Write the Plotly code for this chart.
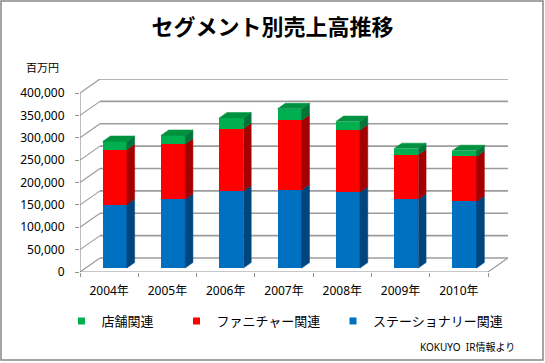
import plotly.graph_objects as go

# ---------------- data ----------------
years = ["2004年", "2005年", "2006年", "2007年", "2008年", "2009年", "2010年"]
stationery = [142000, 154000, 172000, 174500, 169500, 154000, 149000]   # ステーショナリー関連
furniture = [122500, 123000, 139500, 155500, 138500, 99000, 100500]     # ファニチャー関連
stores = [18500, 19500, 24000, 26000, 19500, 14000, 13000]              # 店舗関連
y_ticks = [0, 50000, 100000, 150000, 200000, 250000, 300000, 350000, 400000]

# ---------------- geometry / style ----------------
W, H = 545, 363
ML, MR, MT, MB = 80, 37, 79, 91
PW, PH = W - ML - MR, H - MT - MB
N = len(years)
DEPTH_PX_X, DEPTH_PX_Y = 20, 14
cat_px = (PW - DEPTH_PX_X) / N
DX = DEPTH_PX_X / cat_px
YTOP = y_ticks[-1]
ymax = YTOP * PH / (PH - DEPTH_PX_Y)
DY = ymax - YTOP
F0, F1 = 0.28, 0.67     # bar depth range (fraction of full depth)
BW = 0.415              # bar width in category units

GRID = "#9c9c9c"
FONT = "Noto Sans, Noto Sans CJK JP, DejaVu Sans, sans-serif"

series = [
    ("ステーショナリー関連", stationery, "#0070C0", "#00457E", "#005A9E"),
    ("ファニチャー関連", furniture, "#FF0000", "#A50000", "#C00000"),
    ("店舗関連", stores, "#00B050", "#00743A", "#00923F"),
]


def proj(x, v, d):
    return x + d * DX, v + d * DY


def px2paper_x(px):
    return (px - ML) / PW


def px2paper_y(py):
    return (H - MB - py) / PH


fig = go.Figure()
shapes = []

# back wall gridlines and left wall diagonals
x_left, x_right = -0.5, N - 0.5
for v in y_ticks:
    bx0, by = proj(x_left, v, 1)
    bx1, _ = proj(x_right, v, 1)
    shapes.append(dict(type="line", x0=bx0, y0=by, x1=bx1, y1=by, xref="x", yref="y",
                       line=dict(color=GRID, width=1.6), layer="below"))
    shapes.append(dict(type="line", x0=x_left, y0=v, x1=bx0, y1=by, xref="x", yref="y",
                       line=dict(color=GRID, width=1.2), layer="below"))
# floor right edge and front edge, front y axis line
fx1, fy1 = proj(x_right, 0, 1)
shapes.append(dict(type="line", x0=x_right, y0=0, x1=fx1, y1=fy1, xref="x", yref="y",
                   line=dict(color=GRID, width=1.2), layer="below"))
shapes.append(dict(type="line", x0=x_left, y0=0, x1=x_right, y1=0, xref="x", yref="y",
                   line=dict(color="#909090", width=1.2), layer="below"))
shapes.append(dict(type="line", x0=x_left, y0=0, x1=x_left, y1=YTOP, xref="x", yref="y",
                   line=dict(color="#909090", width=1.2), layer="below"))

# bars
cum = [0] * N
for si, (name, vals, c_front, c_side, c_top) in enumerate(series):
    bases = [cum[i] + F0 * DY for i in range(N)]
    fig.add_trace(go.Bar(
        x=[i + F0 * DX for i in range(N)], y=vals, base=bases, width=BW,
        marker=dict(color=c_front, line=dict(width=0)), showlegend=False,
        hoverinfo="skip"))
    for i in range(N):
        v0, v1 = cum[i], cum[i] + vals[i]
        xr = i + BW / 2
        xl = i - BW / 2
        pts = [proj(xr, v0, F0), proj(xr, v0, F1), proj(xr, v1, F1), proj(xr, v1, F0)]
        fig.add_trace(go.Scatter(
            x=[p[0] for p in pts] + [pts[0][0]], y=[p[1] for p in pts] + [pts[0][1]],
            mode="lines", fill="toself", fillcolor=c_side,
            line=dict(color=c_side, width=0.5), showlegend=False, hoverinfo="skip"))
        if si == len(series) - 1:
            pts = [proj(xl, v1, F0), proj(xr, v1, F0), proj(xr, v1, F1), proj(xl, v1, F1)]
            fig.add_trace(go.Scatter(
                x=[p[0] for p in pts] + [pts[0][0]], y=[p[1] for p in pts] + [pts[0][1]],
                mode="lines", fill="toself", fillcolor=c_top,
                line=dict(color=c_top, width=0.5), showlegend=False, hoverinfo="skip"))
    cum = [cum[i] + vals[i] for i in range(N)]

# legend entries (three separately placed legends, as in the original)
legend_specs = [("店舗関連", "#00B050", 81.5, "legend"),
                ("ファニチャー関連", "#FF0000", 196.5, "legend2"),
                ("ステーショナリー関連", "#0070C0", 353, "legend3")]
legend_layout = {}
for name, color, cx, lg in legend_specs:
    fig.add_trace(go.Scatter(x=[None], y=[None], mode="markers", name=name,
                             marker=dict(symbol="square", size=7, color=color),
                             legend=lg, showlegend=True))
    legend_layout[lg] = dict(x=px2paper_x(cx - 20), y=px2paper_y(321), xanchor="left",
                             yanchor="middle", orientation="h", itemsizing="trace",
                             font=dict(size=13, family=FONT, color="#000"),
                             bgcolor="rgba(0,0,0,0)", borderwidth=0)

# border
shapes.append(dict(type="rect", xref="paper", yref="paper",
                   x0=px2paper_x(1), x1=px2paper_x(543), y0=px2paper_y(360), y1=px2paper_y(1),
                   line=dict(color="#888888", width=1.5), layer="above"))

fig.update_layout(
    width=W, height=H, margin=dict(l=ML, r=MR, t=MT, b=MB, autoexpand=False),
    paper_bgcolor="white", plot_bgcolor="white",
    barmode="overlay", bargap=0,
    font=dict(family=FONT, color="#000", size=12),
    title=dict(text="<b>セグメント別売上高推移</b>", x=0.5, xref="container", xanchor="center",
               y=1 - 27 / H, yref="container", yanchor="middle",
               font=dict(size=22, family="Noto Sans CJK JP", color="#000")),
    shapes=shapes,
    annotations=[
        dict(text="百万円", xref="paper", yref="paper", x=px2paper_x(42), y=px2paper_y(67),
             xanchor="center", yanchor="middle", showarrow=False,
             font=dict(size=11, family=FONT)),
        dict(text="KOKUYO  IR情報より", xref="paper", yref="paper", x=px2paper_x(517),
             y=px2paper_y(347), xanchor="right", yanchor="middle", showarrow=False,
             font=dict(size=10, family=FONT)),
    ],
    xaxis=dict(range=[-0.5, N - 0.5 + DX], tickmode="array", tickvals=list(range(N)),
               ticktext=years, ticks="", showgrid=False, zeroline=False, showline=False,
               tickfont=dict(size=12, family=FONT), ticklabelstandoff=10,
               minor=dict(tickmode="array", tickvals=[i - 0.5 for i in range(N + 1)],
                          ticks="outside", ticklen=4, tickcolor="#909090", tickwidth=1,
                          showgrid=False),
               fixedrange=True),
    yaxis=dict(range=[0, ymax], tickmode="array", tickvals=y_ticks, tickformat=",",
               ticks="outside", ticklen=4, tickcolor="#909090", showgrid=False,
               zeroline=False, showline=False, tickfont=dict(size=12, family=FONT),
               ticklabelstandoff=8, fixedrange=True),
    **legend_layout,
)

fig.write_html("out.html", config={"displayModeBar": False},
               post_script="document.body.style.margin='0px';document.body.style.overflow='hidden';")
